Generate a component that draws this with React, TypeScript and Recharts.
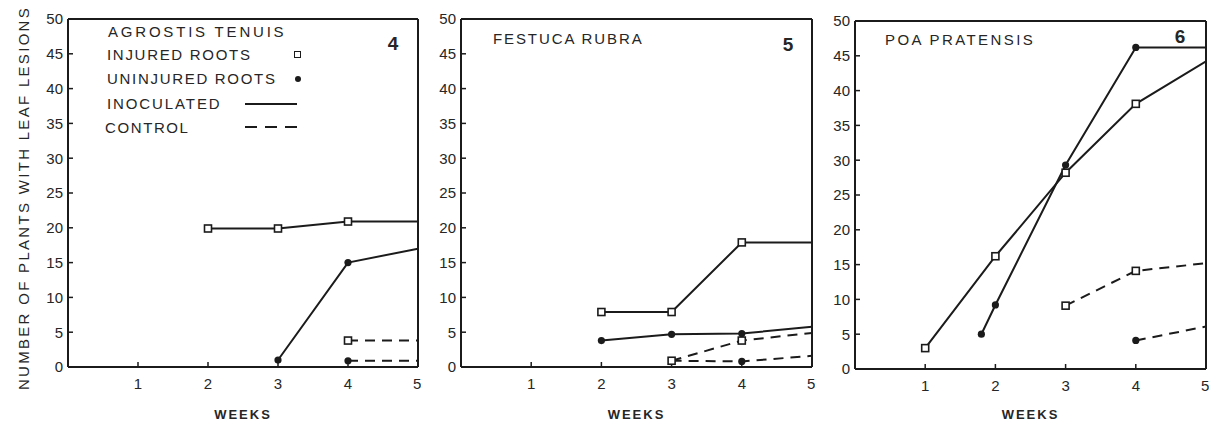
import { useEffect, useState } from "react"
import type { CSSProperties, ReactNode } from "react"
import { LineChart, Line, XAxis, YAxis } from "recharts"

type Pt = { w: number; v: number }

const xTicks = [1, 2, 3, 4, 5]
const yTicks = [0, 5, 10, 15, 20, 25, 30, 35, 40, 45, 50]

// fig 4, Agrostis tenuis
const agrostisInjuredInoc: Pt[] = [{ w: 2, v: 19.9 }, { w: 3, v: 19.9 }, { w: 4, v: 20.9 }, { w: 5, v: 20.9 }]
const agrostisUninjuredInoc: Pt[] = [{ w: 3, v: 1 }, { w: 4, v: 15 }, { w: 5, v: 17 }]
const agrostisInjuredCtrl: Pt[] = [{ w: 4, v: 3.8 }, { w: 5, v: 3.8 }]
const agrostisUninjuredCtrl: Pt[] = [{ w: 4, v: 0.9 }, { w: 5, v: 0.9 }]

// fig 5, Festuca rubra
const festucaInjuredInoc: Pt[] = [{ w: 2, v: 7.9 }, { w: 3, v: 7.9 }, { w: 4, v: 17.9 }, { w: 5, v: 17.9 }]
const festucaUninjuredInoc: Pt[] = [{ w: 2, v: 3.8 }, { w: 3, v: 4.7 }, { w: 4, v: 4.8 }, { w: 5, v: 5.8 }]
const festucaInjuredCtrl: Pt[] = [{ w: 3, v: 0.9 }, { w: 4, v: 3.8 }, { w: 5, v: 4.9 }]
const festucaUninjuredCtrl: Pt[] = [{ w: 3, v: 0.9 }, { w: 4, v: 0.8 }, { w: 5, v: 1.6 }]

// fig 6, Poa pratensis
const poaInjuredInoc: Pt[] = [{ w: 1, v: 3 }, { w: 2, v: 16.2 }, { w: 3, v: 28.2 }, { w: 4, v: 38.1 }, { w: 5, v: 44.2 }]
const poaUninjuredInoc: Pt[] = [{ w: 1.8, v: 5 }, { w: 2, v: 9.2 }, { w: 3, v: 29.3 }, { w: 4, v: 46.2 }, { w: 5, v: 46.2 }]
const poaInjuredCtrl: Pt[] = [{ w: 3, v: 9.1 }, { w: 4, v: 14.1 }, { w: 5, v: 15.2 }]
const poaUninjuredCtrl: Pt[] = [{ w: 4, v: 4.1 }, { w: 5, v: 6.1 }]

const INK = "#1b1b1b"
const TXT = "#262626"
const FONT = "'Liberation Sans', Arial, sans-serif"
const DASH = "10 7"

type Series = { data: Pt[]; injured: boolean; control: boolean }

const panels = [
  {
    key: "4",
    l: 68, r: 418, t: 19, b: 367,
    series: [
      { data: agrostisUninjuredInoc, injured: false, control: false },
      { data: agrostisUninjuredCtrl, injured: false, control: true },
      { data: agrostisInjuredInoc, injured: true, control: false },
      { data: agrostisInjuredCtrl, injured: true, control: true },
    ] as Series[],
  },
  {
    key: "5",
    l: 461, r: 812, t: 19, b: 367,
    series: [
      { data: festucaUninjuredInoc, injured: false, control: false },
      { data: festucaUninjuredCtrl, injured: false, control: true },
      { data: festucaInjuredInoc, injured: true, control: false },
      { data: festucaInjuredCtrl, injured: true, control: true },
    ] as Series[],
  },
  {
    key: "6",
    l: 855, r: 1206, t: 21, b: 369,
    series: [
      { data: poaUninjuredInoc, injured: false, control: false },
      { data: poaUninjuredCtrl, injured: false, control: true },
      { data: poaInjuredInoc, injured: true, control: false },
      { data: poaInjuredCtrl, injured: true, control: true },
    ] as Series[],
  },
]

// markers are not drawn at the right edge (week 5)
function SquareDot(props: any) {
  const { cx, cy, payload } = props
  if (cx == null || payload.w >= 5) return <g />
  return <rect x={cx - 3.5} y={cy - 3.5} width={7} height={7} fill="#fff" stroke={INK} strokeWidth={1.6} />
}

function RoundDot(props: any) {
  const { cx, cy, payload } = props
  if (cx == null || payload.w >= 5) return <g />
  return <circle cx={cx} cy={cy} r={3.6} fill={INK} stroke="none" />
}

const YW = 40
const frame = { stroke: INK, strokeWidth: 2 }
const tickMark = { stroke: INK, strokeWidth: 1.5 }
const tickText = { fill: TXT, fontSize: 15, fontFamily: FONT }

function Panel({ p, pass }: { p: (typeof panels)[number]; pass: number }) {
  const width = p.r - p.l + YW + 3
  const height = p.b + 30
  return (
    <div data-pass={pass} style={{ position: "absolute", left: p.l - YW, top: 0 }}>
      <LineChart width={width} height={height} margin={{ top: p.t - 1, right: 2, bottom: 0, left: 0 }}>
        <XAxis
          xAxisId="b"
          type="number"
          dataKey="w"
          domain={[0, 5]}
          ticks={xTicks}
          height={30}
          axisLine={frame}
          tickLine={tickMark}
          tickSize={-5}
          tickMargin={16}
          tick={tickText}
          allowDataOverflow
        />
        <XAxis xAxisId="t" orientation="top" type="number" domain={[0, 5]} height={1} axisLine={frame} tick={false} tickLine={false} />
        <YAxis
          yAxisId="l"
          type="number"
          domain={[0, 50]}
          ticks={yTicks}
          width={YW}
          axisLine={frame}
          tickLine={tickMark}
          tickSize={-5}
          tickMargin={10}
          tick={tickText}
          interval={0}
          allowDataOverflow
        />
        <YAxis yAxisId="r" orientation="right" type="number" domain={[0, 50]} width={1} axisLine={frame} tick={false} tickLine={false} />
        {p.series.map((s, i) => (
          <Line
            key={i}
            xAxisId="b"
            yAxisId="l"
            data={s.data}
            dataKey="v"
            type="linear"
            stroke={INK}
            strokeWidth={2}
            strokeDasharray={s.control ? DASH : undefined}
            dot={s.injured ? SquareDot : RoundDot}
            activeDot={false}
            isAnimationActive={false}
          />
        ))}
      </LineChart>
    </div>
  )
}

// html text placed by its baseline
function T({ x, y, size = 15, ls = 0, bold = false, center = false, children }: {
  x: number; y: number; size?: number; ls?: number; bold?: boolean; center?: boolean; children: ReactNode
}) {
  const style: CSSProperties = {
    position: "absolute",
    left: x,
    top: y - 0.847 * size,
    fontFamily: FONT,
    fontSize: size,
    lineHeight: `${size}px`,
    fontWeight: bold ? "bold" : "normal",
    letterSpacing: ls,
    color: TXT,
    whiteSpace: "nowrap",
    transform: center ? "translateX(-50%)" : undefined,
  }
  return <div style={style}>{children}</div>
}

const abs = (s: CSSProperties): CSSProperties => ({ position: "absolute", ...s })

export default function App() {
  // the axis layers only show up after the charts render a second time
  const [pass, setPass] = useState(0)
  useEffect(() => {
    setPass(1)
    const t = setTimeout(() => setPass(2), 150)
    return () => clearTimeout(t)
  }, [])

  return (
    <div style={{ position: "absolute", left: 0, top: 0, width: 1223, height: 426, background: "#fff", overflow: "hidden" }}>
      {panels.map((p) => (
        <Panel key={p.key} p={p} pass={pass} />
      ))}

      <div
        style={abs({
          left: 23,
          top: 198,
          fontFamily: FONT,
          fontSize: 15,
          lineHeight: "15px",
          letterSpacing: 2.3,
          color: TXT,
          whiteSpace: "nowrap",
          transform: "translate(-50%, -50%) rotate(-90deg)",
        })}
      >
        NUMBER OF PLANTS WITH LEAF LESIONS
      </div>

      {panels.map((p) => (
        <T key={p.key} x={(p.l + p.r) / 2} y={419} size={13} ls={2} bold center>
          WEEKS
        </T>
      ))}

      <T x={108} y={36.5} ls={2.8}>AGROSTIS TENUIS</T>
      <T x={493} y={43.5} ls={1.9}>FESTUCA RUBRA</T>
      <T x={885} y={44.5} ls={2.4}>POA PRATENSIS</T>

      <T x={393} y={50} size={19} bold center>4</T>
      <T x={788} y={51} size={19} bold center>5</T>
      <T x={1180} y={43} size={19} bold center>6</T>

      <T x={107} y={59.5} ls={1.7}>INJURED ROOTS</T>
      <div style={abs({ left: 294, top: 51, width: 7, height: 7, boxSizing: "border-box", border: `1.5px solid ${INK}`, background: "#fff" })} />
      <T x={107} y={83.5} ls={1.7}>UNINJURED ROOTS</T>
      <div style={abs({ left: 294.7, top: 75.7, width: 6.6, height: 6.6, borderRadius: "50%", background: INK })} />
      <T x={107} y={108.5} ls={1.9}>INOCULATED</T>
      <div style={abs({ left: 245, top: 103, width: 52, height: 2, background: INK })} />
      <T x={105} y={132.5} ls={1.6}>CONTROL</T>
      <div
        style={abs({
          left: 245,
          top: 126,
          width: 52,
          height: 2,
          background: `repeating-linear-gradient(to right, ${INK} 0 12px, transparent 12px 20px)`,
        })}
      />
    </div>
  )
}
